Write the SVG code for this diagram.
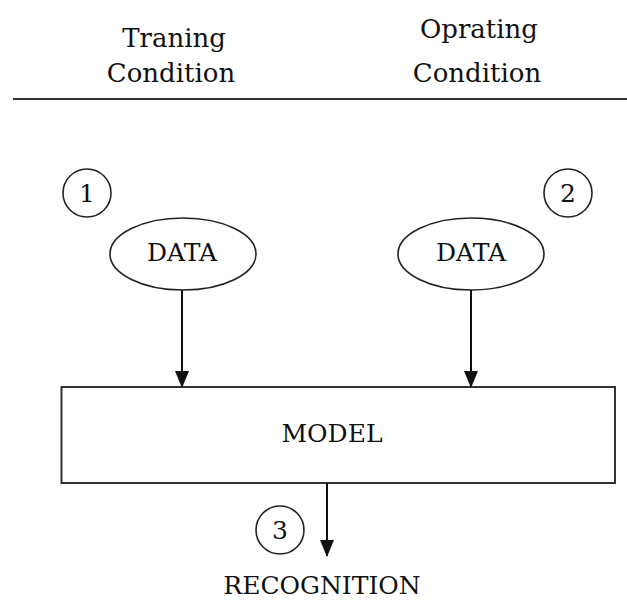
<svg xmlns="http://www.w3.org/2000/svg" width="627" height="601" viewBox="0 0 627 601">
<style>
text{font-family:"DejaVu Serif","Liberation Serif",serif;font-size:25px;fill:#111;text-anchor:middle}
.h{font-size:26px}
.s{fill:none;stroke:#222;stroke-width:1.6}
.b{fill:#fff;stroke:#333;stroke-width:2}
.c{stroke:#111;stroke-width:2;fill:none}
</style>
<defs>
<marker id="ah" markerUnits="userSpaceOnUse" markerWidth="17" markerHeight="15" refX="16" refY="7" orient="auto">
<path d="M0,0 L17,7 L0,14 z" fill="#111"/>
</marker>
</defs>
<rect width="627" height="601" fill="#fff"/>
<g id="header">
<text class="h" x="174" y="47">Traning</text>
<text class="h" x="171" y="82">Condition</text>
<text class="h" x="479" y="38">Oprating</text>
<text class="h" x="477" y="82">Condition</text>
<line x1="13" y1="99" x2="627" y2="99" stroke="#333" stroke-width="2"/>
</g>
<g id="label1"><circle class="s" cx="87" cy="193" r="24"/><text x="87" y="202">1</text></g>
<g id="label2"><circle class="s" cx="568" cy="193" r="24"/><text x="568" y="202">2</text></g>
<g id="data1"><ellipse class="s" cx="183" cy="254" rx="73" ry="36"/><text x="182" y="261">DATA</text></g>
<g id="data2"><ellipse class="s" cx="471" cy="254" rx="73" ry="36"/><text x="471" y="261">DATA</text></g>
<g id="model"><rect class="b" x="61.5" y="387" width="553.5" height="96"/><text x="332" y="442">MODEL</text></g>
<g id="label3"><circle class="s" cx="280" cy="530" r="24"/><text x="280" y="539">3</text></g>
<g id="recognition"><text x="322" y="594">RECOGNITION</text></g>
<g id="connectors">
<line class="c" x1="182" y1="290" x2="182" y2="387" marker-end="url(#ah)"/>
<line class="c" x1="471" y1="290" x2="471" y2="387" marker-end="url(#ah)"/>
<line class="c" x1="327" y1="483" x2="327" y2="556" marker-end="url(#ah)"/>
</g>
</svg>
